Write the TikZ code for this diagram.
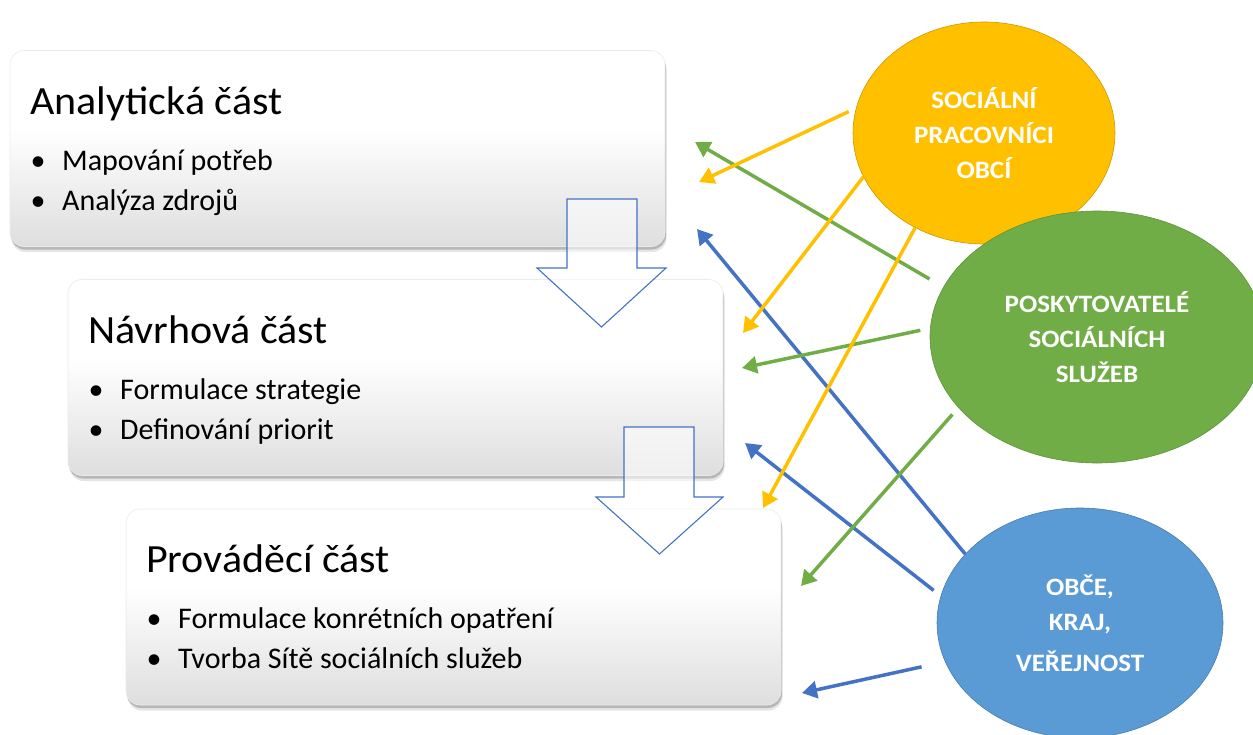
\documentclass[tikz,border=0pt]{standalone}
\usepackage{fontspec}
\setmainfont{Carlito}
\newfontfamily\cfont[FakeStretch=1.08]{Carlito}
\newfontfamily\tfont[FakeStretch=1.05]{Carlito}
\usetikzlibrary{arrows.meta,shapes.geometric}
\definecolor{cyel}{HTML}{FFC000}
\definecolor{cgrn}{HTML}{70AD47}
\definecolor{cblu}{HTML}{4472C4}
\definecolor{cbluc}{HTML}{5B9BD5}
\pgfdeclareverticalshading{boxshade}{100bp}{color(0bp)=(black!13); color(25bp)=(black!13); color(55bp)=(white); color(100bp)=(white)}
\begin{document}
\begin{tikzpicture}[x=1pt,y=-1pt,
  box/.style={rounded corners=14pt, minimum width=655pt, minimum height=196pt, inner sep=0pt,
    shading=boxshade, draw=black!8, line width=.6pt,
    preaction={fill=black, opacity=.10, transform canvas={xshift=1.5pt,yshift=-5.5pt}},
    preaction={fill=black, opacity=.20, transform canvas={xshift=1pt,yshift=-3pt}}},
  title/.style={font=\tfont\fontsize{40}{48}\selectfont, inner sep=0pt, anchor=base west},
  bul/.style={font=\fontsize{30}{36}\selectfont, inner sep=0pt, anchor=base west},
  blockarrow/.style={draw=cblu, line width=1.1pt, fill=white, fill opacity=.55, line join=miter},
  ell/.style={ellipse, inner sep=0pt, align=center, text=white, line width=.6pt,
    font=\cfont\bfseries\fontsize{25}{35}\selectfont},
  conn/.style={line width=3.5pt, -{Triangle[length=15pt,width=17pt]}}
]
\useasboundingbox (0,0) rectangle (1253,734);

% boxes
\node[box] (b1) at (337.5,148.5) {};
\node[box] (b2) at (395.5,377.5) {};
\node[box] (b3) at (453.5,607) {};

\node[title] (t1) at (30,114) {Analytická část};
\node[bul] (t1a) at (26,170) {\makebox[24pt][c]{•}\hspace{12pt}Mapování potřeb};
\node[bul] (t1b) at (26,210) {\makebox[24pt][c]{•}\hspace{12pt}Analýza zdrojů};

\node[title] (t2) at (88,343) {Návrhová část};
\node[bul] (t2a) at (84,399) {\makebox[24pt][c]{•}\hspace{12pt}Formulace strategie};
\node[bul] (t2b) at (84,439) {\makebox[24pt][c]{•}\hspace{12pt}Definování priorit};

\node[title] (t3) at (146,572) {Prováděcí část};
\node[bul] (t3a) at (142,628) {\makebox[24pt][c]{•}\hspace{12pt}Formulace konrétních opatření};
\node[bul] (t3b) at (142,668) {\makebox[24pt][c]{•}\hspace{12pt}Tvorba Sítě sociálních služeb};

% block arrows
\draw[blockarrow] (567,199) -- (637,199) -- (637,268) -- (666,268) -- (601.5,327) -- (537,268) -- (567,268) -- cycle;
\draw[blockarrow] (624,427) -- (694,427) -- (694,497) -- (723,497) -- (659.5,554) -- (596,497) -- (624,497) -- cycle;

% circles
\node[ell, fill=cyel, draw=cyel!80!black, minimum width=262pt, minimum height=222pt] (yel) at (984,133) {SOCIÁLNÍ\\PRACOVNÍCI\\OBCÍ};
\node[ell, fill=cgrn, draw=cgrn!85!black, minimum width=334pt, minimum height=252pt] (grn) at (1097,337) {POSKYTOVATELÉ\\SOCIÁLNÍCH\\SLUŽEB};
\node[ell, fill=cbluc, draw=cbluc!80!black, minimum width=286pt, minimum height=230pt] (blu) at (1080,623) {OBČE,\\KRAJ,\\[6pt]VEŘEJNOST};

% free ends
\coordinate (y1e) at (699,182);
\coordinate (y2e) at (743,333);
\coordinate (y3e) at (763,508);
\coordinate (g1e) at (695,142);
\coordinate (g2e) at (742,368);
\coordinate (g3e) at (801,586);
\coordinate (b1e) at (697,229);
\coordinate (b2e) at (745,443);
\coordinate (b3e) at (802,693);

% connectors
\draw[conn, cblu] (blu.149) -- (b1e);
\draw[conn, cblu, shorten <=9pt] (blu.169) -- (b2e);
\draw[conn, cblu, shorten <=24pt] (blu.196) -- (b3e);
\draw[conn, cgrn, shorten <=16pt] (grn.162) -- (g1e);
\draw[conn, cgrn, shorten <=10pt] (grn.177) -- (g2e);
\draw[conn, cgrn, shorten <=9pt] (grn.207) -- (g3e);
\draw[conn, cyel, shorten <=8pt] (yel.169) -- (y1e);
\draw[conn, cyel] (yel.200) -- (y2e);
\draw[conn, cyel] (yel.234) -- (y3e);
\end{tikzpicture}
\end{document}
